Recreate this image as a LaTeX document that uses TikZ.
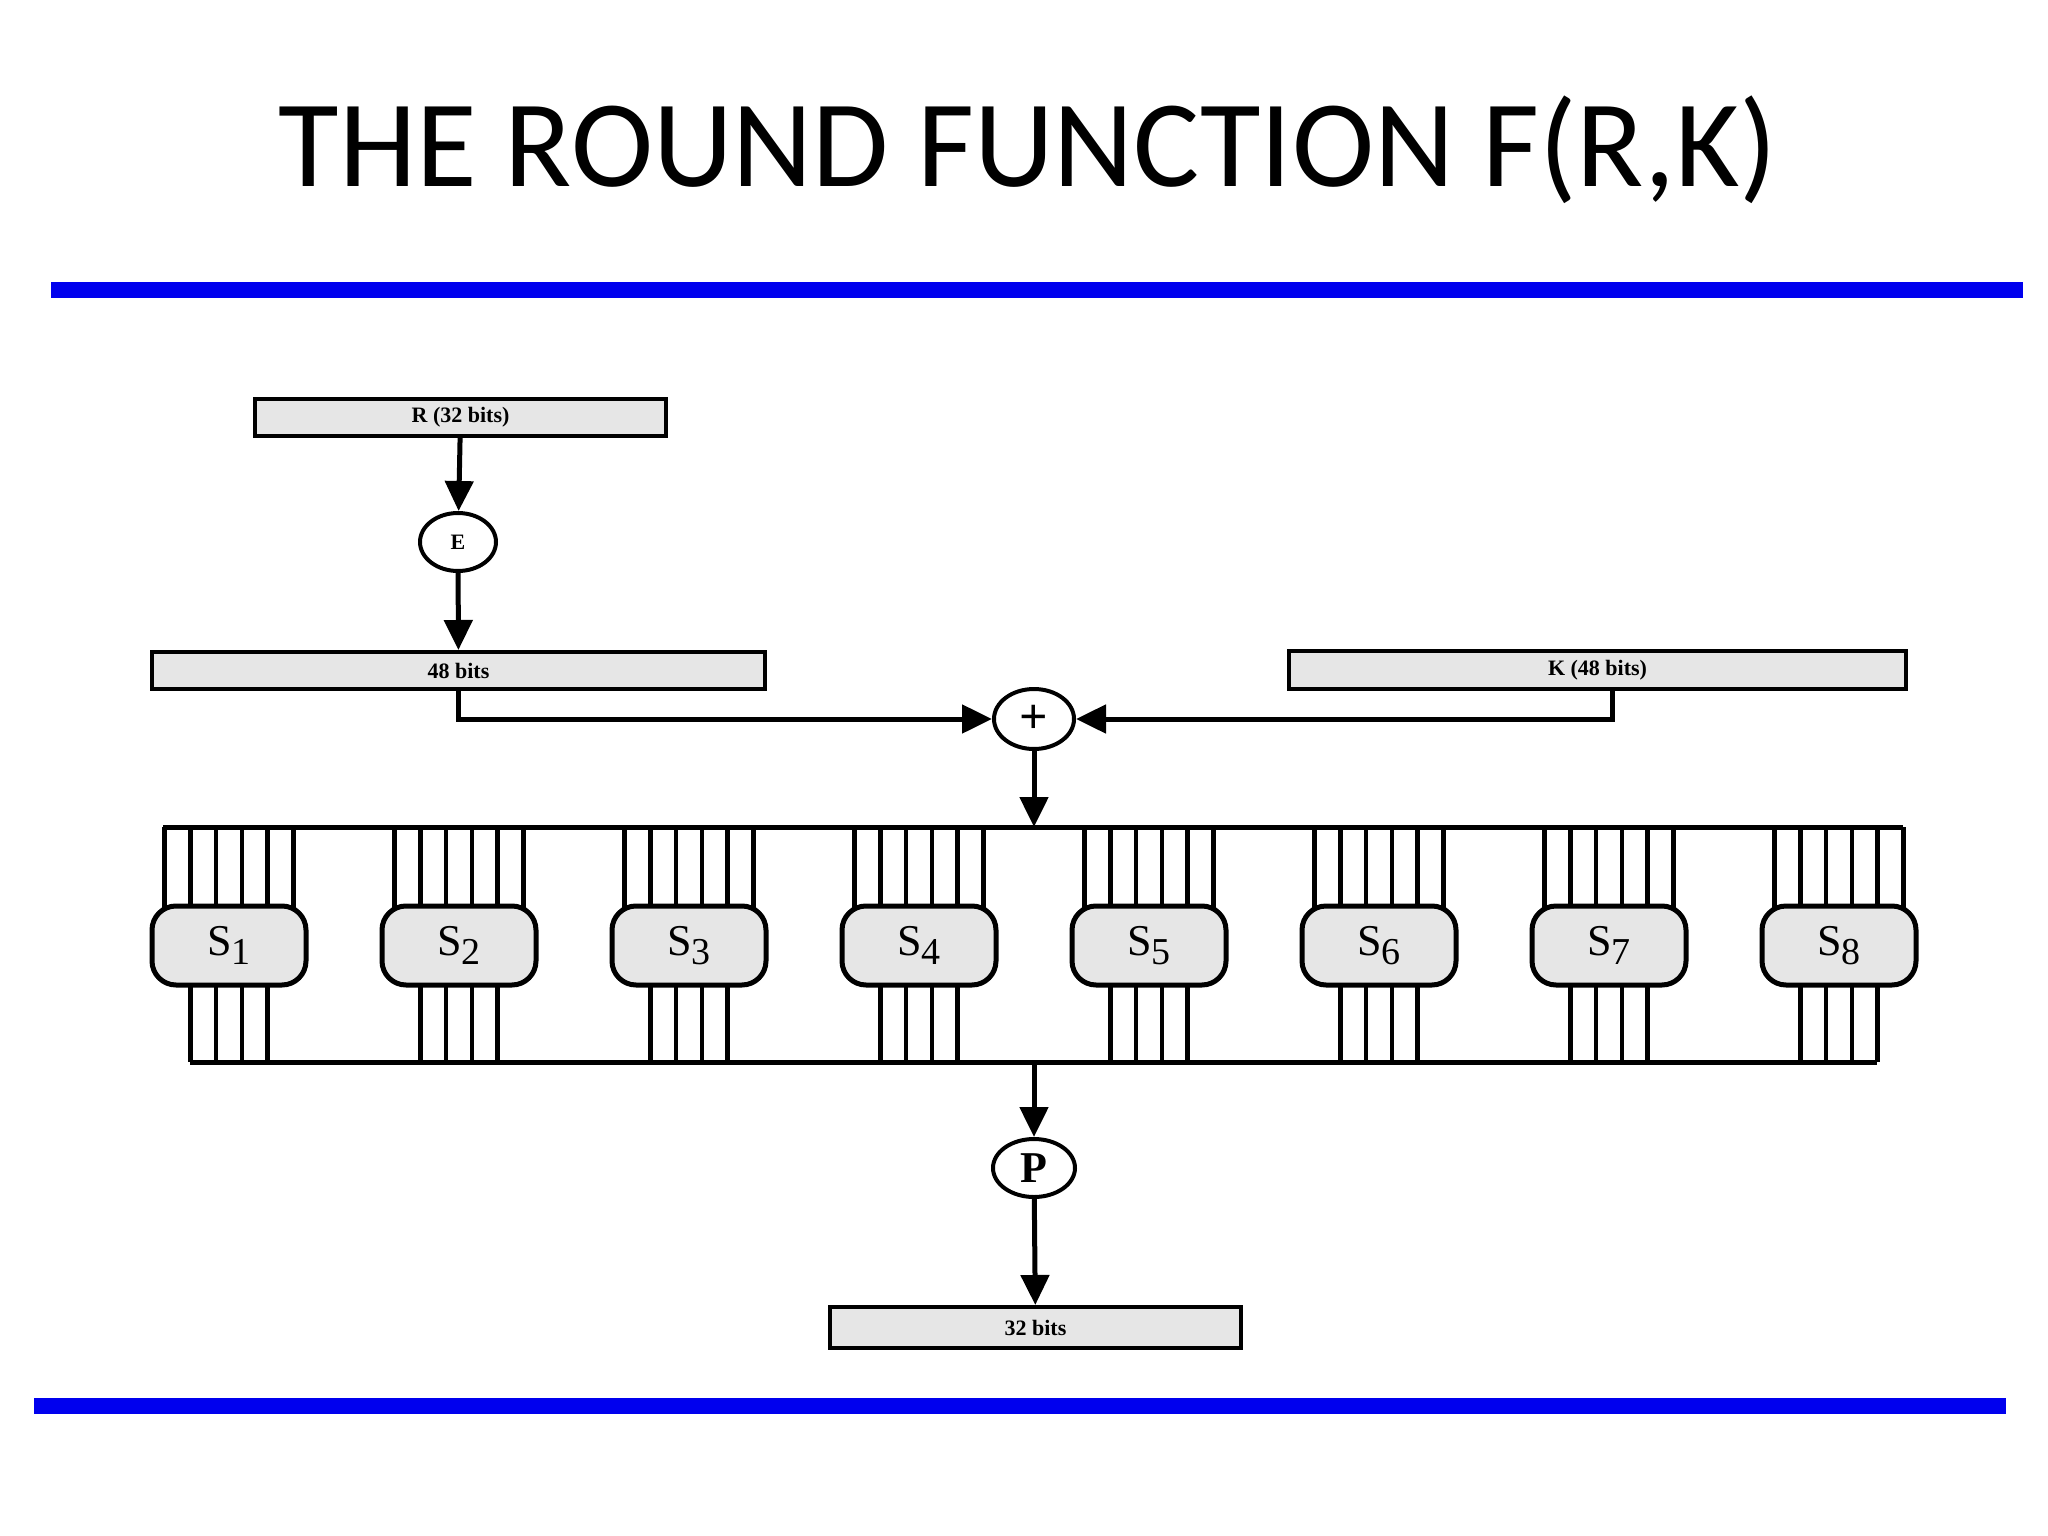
\documentclass[tikz,border=0pt]{standalone}
\usepackage{fontspec}
\setmainfont{Liberation Serif}
\newfontfamily\titlefont{Carlito}
\usetikzlibrary{shapes.geometric,arrows.meta}
\definecolor{boxgray}{HTML}{E6E6E6}
\definecolor{slideblue}{HTML}{0000EE}
\begin{document}
\begin{tikzpicture}[x=1pt,y=-1pt,
  wire/.style={line width=5pt},
  arr/.style={wire,-{Triangle[length=30pt,width=28pt]}},
  bar/.style={draw,line width=4pt,fill=boxgray,inner sep=0pt,font=\fontsize{22}{24}\selectfont\bfseries},
  circ/.style={draw,ellipse,line width=4pt,fill=white,inner sep=0pt},
  sbox/.style={draw,line width=5pt,fill=boxgray,rounded corners=24pt,minimum width=154pt,minimum height=79pt,font=\fontsize{44}{46}\selectfont}]
\useasboundingbox (0,0) rectangle (2048,1536);
\node[font=\titlefont\fontsize{124}{124}\selectfont] (title) at (1028,150) {THE ROUND FUNCTION F(R,K)};
\fill[slideblue] (51,282) rectangle (2023,298);
\fill[slideblue] (34,1398) rectangle (2006,1414);
\node[bar,minimum width=411pt,minimum height=37pt] (R) at (460.5,417.5) {R (32 bits)};
\node[circ,minimum width=76pt,minimum height=58pt,font=\fontsize{22}{24}\selectfont\bfseries] (E) at (458,542) {E};
\node[bar,minimum width=613pt,minimum height=37pt] (B48) at (458.5,670.5) {48 bits};
\node[bar,minimum width=617pt,minimum height=38pt] (K) at (1597.5,670) {K (48 bits)};
\node[circ,minimum width=80pt,minimum height=60pt,font=\fontsize{50}{50}\selectfont\bfseries] (X) at (1034,719) {+};
\node[circ,minimum width=82pt,minimum height=58pt,font=\fontsize{44}{44}\selectfont\bfseries] (P) at (1034,1168) {P};
\node[bar,minimum width=411pt,minimum height=41pt] (B32) at (1035.5,1327.5) {32 bits};
\coordinate (top) at (1034,827);
\coordinate (bot) at (1034,1062);
\draw[arr] (R) -- (E);
\draw[arr] (E) -- (B48);
\draw[arr] (B48.south) |- (X);
\draw[arr] (K.south -| 1612,0) |- (X);
\draw[arr] (X) -- (top);
\draw[wire] (163,827) -- (1903,827);
\draw[wire] (190,1062) -- (1877,1062);
\foreach \i in {1,...,8}{
  \pgfmathsetmacro{\cx}{229+(\i-1)*230}
  \foreach \d in {-64.5,-38.7,-12.9,12.9,38.7,64.5}
    \draw[line width=4.5pt] (\cx+\d,827) -- (\cx+\d,945);
  \foreach \d in {-38.7,-12.9,12.9,38.7}
    \draw[line width=4.5pt] (\cx+\d,945) -- (\cx+\d,1062);
  \node[sbox] (S\i) at (\cx,945.5) {S\raisebox{-9pt}{\fontsize{38}{38}\selectfont\i}};
}
\draw[arr] (bot) -- (P);
\draw[arr] (P) -- (B32);
\end{tikzpicture}
\end{document}
